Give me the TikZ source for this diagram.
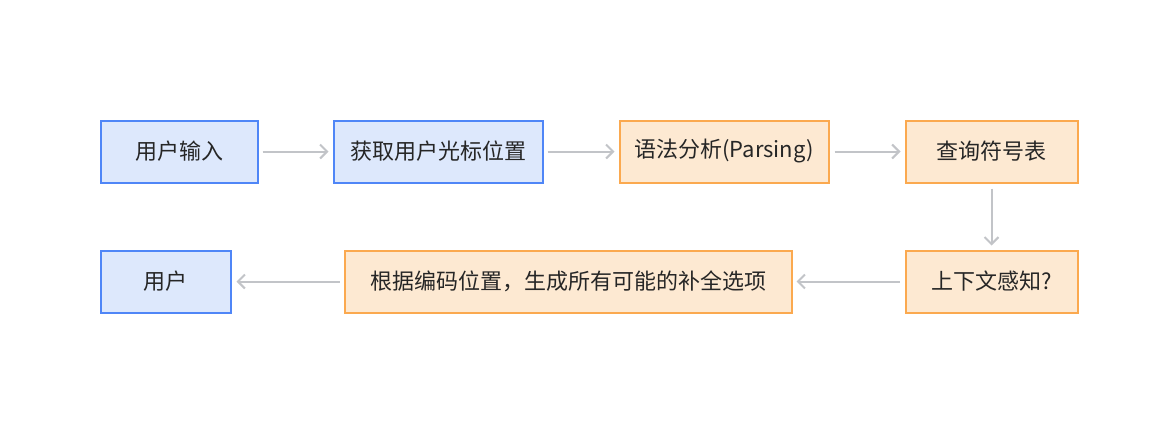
\documentclass[tikz,border=0pt]{standalone}
\usepackage{fontspec}
\setmainfont{Noto Sans CJK SC}
\usetikzlibrary{arrows.meta}
\definecolor{bfill}{HTML}{DDE8FC}
\definecolor{bdraw}{HTML}{4F86F7}
\definecolor{ofill}{HTML}{FDE9D2}
\definecolor{odraw}{HTML}{FBA94F}
\definecolor{agray}{HTML}{C2C4C8}
\begin{document}
\begin{tikzpicture}[x=1pt,y=-1pt,
  box/.style={rectangle, line width=2pt, inner sep=0pt, font=\fontsize{22}{26}\selectfont, text=black!85},
  bluebox/.style={box, draw=bdraw, fill=bfill},
  orabox/.style={box, draw=odraw, fill=ofill},
  conn/.style={draw=agray, line width=2pt, -{Straight Barb[length=7pt,width=14pt,line width=2pt]}}]
\useasboundingbox (0,0) rectangle (1163,424);
\fill[white] (0,0) rectangle (1163,424);
\node[bluebox, minimum width=157pt, minimum height=62pt] (a) at (179,151.5) {用户输入};
\node[bluebox, minimum width=209pt, minimum height=62pt] (b) at (438,151.5) {获取用户光标位置};
\node[orabox, minimum width=209pt, minimum height=62pt] (c) at (724,151.5) {语法分析(Parsing)};
\node[orabox, minimum width=172pt, minimum height=62pt] (d) at (991.5,151.5) {查询符号表};
\node[orabox, minimum width=172pt, minimum height=62pt] (e) at (991.5,281.5) {上下文感知?};
\node[orabox, minimum width=447pt, minimum height=62pt] (f) at (568,281.5) {根据编码位置，生成所有可能的补全选项};
\node[bluebox, minimum width=130pt, minimum height=62pt] (g) at (165.5,281.5) {用户};
\draw[conn] ([xshift=4pt]a.east) -- ([xshift=-4pt]b.west);
\draw[conn] ([xshift=4pt]b.east) -- ([xshift=-4pt]c.west);
\draw[conn] ([xshift=5pt]c.east) -- ([xshift=-4pt]d.west);
\draw[conn] ([yshift=-5pt]d.south) -- ([yshift=4pt]e.north);
\draw[conn] ([xshift=-5pt]e.west) -- ([xshift=4pt]f.east);
\draw[conn] ([xshift=-4pt]f.west) -- ([xshift=5pt]g.east);
\end{tikzpicture}
\end{document}
